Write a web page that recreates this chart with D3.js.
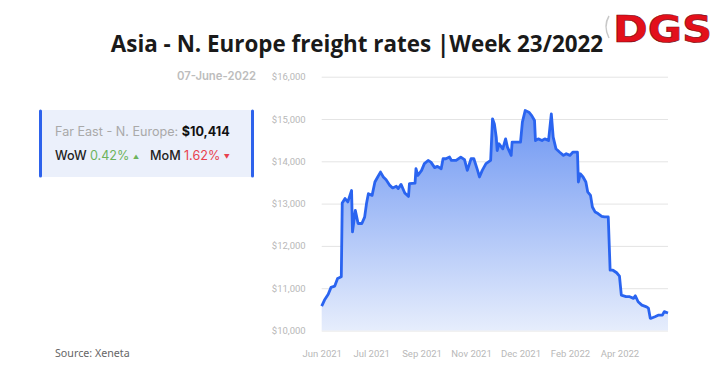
<!DOCTYPE html>
<html>
<head>
<meta charset="utf-8">
<script src="https://cdn.jsdelivr.net/npm/d3@7"></script>
<style>
  body { margin: 0; background: #fff; }
  svg { display: block; }
</style>
</head>
<body>
<div id="chart"></div>
<script>
// data
var dates = ["2021-06-01","2021-06-04","2021-06-08","2021-06-11","2021-06-15","2021-06-18","2021-06-22","2021-06-23",
  "2021-06-26","2021-06-29","2021-07-03","2021-07-04","2021-07-07","2021-07-10","2021-07-14","2021-07-17","2021-07-19",
  "2021-07-21","2021-07-25","2021-07-28","2021-07-31","2021-08-03","2021-08-06","2021-08-09","2021-08-13","2021-08-16",
  "2021-08-20","2021-08-22","2021-08-25","2021-08-29","2021-09-02","2021-09-03","2021-09-09","2021-09-10","2021-09-12",
  "2021-09-16","2021-09-19","2021-09-23","2021-09-26","2021-09-30","2021-10-03","2021-10-07","2021-10-09","2021-10-12",
  "2021-10-16","2021-10-18","2021-10-23","2021-10-28","2021-11-01","2021-11-04","2021-11-08","2021-11-11","2021-11-15",
  "2021-11-17","2021-11-20","2021-11-24","2021-11-29","2021-12-01","2021-12-03","2021-12-05","2021-12-06","2021-12-08",
  "2021-12-12","2021-12-15","2021-12-17","2021-12-21","2021-12-22","2021-12-28","2021-12-31","2022-01-02","2022-01-05",
  "2022-01-09","2022-01-12","2022-01-15","2022-01-16","2022-01-19","2022-01-23","2022-01-26","2022-01-30","2022-02-02",
  "2022-02-04","2022-02-07","2022-02-11","2022-02-15","2022-02-18","2022-02-22","2022-02-25","2022-03-02","2022-03-03",
  "2022-03-05","2022-03-08","2022-03-11","2022-03-13","2022-03-16","2022-03-18","2022-03-21","2022-03-24","2022-03-28",
  "2022-03-31","2022-04-04","2022-04-06","2022-04-09","2022-04-13","2022-04-16","2022-04-18","2022-04-23","2022-04-27",
  "2022-05-01","2022-05-03","2022-05-06","2022-05-10","2022-05-15","2022-05-17","2022-05-19","2022-05-20","2022-05-24",
  "2022-05-28","2022-06-01","2022-06-03","2022-06-07"]

var rates = [10578,10720,10855,11020,11050,11230,11270,13015,
  13120,13040,13310,12330,12840,12530,12530,12680,13000,
  13235,13195,13510,13630,13745,13630,13565,13430,13370,
  13410,13355,13455,13250,13170,13470,13485,13825,13665,
  13785,13945,14020,13980,13850,13880,13825,14060,14060,
  14100,14020,14020,14100,14040,13785,14060,14060,13785,
  13630,13785,13945,14020,15005,14885,14570,14255,14415,
  14295,14530,14335,14140,14455,14455,14455,14925,15200,
  15160,15080,14965,14490,14530,14490,14530,14490,15120,
  14570,14295,14215,14140,14180,14140,14215,14215,13510,
  13705,13630,13510,13275,13195,12920,12800,12765,12700,
  12685,12685,11425,11425,11365,11285,10835,10800,10800,
  10760,10820,10680,10600,10560,10530,10290,10290,10325,
  10365,10365,10445,10414]

var tickDates = ["2021-06-01","2021-07-24","2021-09-16","2021-11-08","2021-12-31","2022-02-22","2022-04-16"]
var yTicks = [10000, 11000, 12000, 13000, 14000, 15000, 16000]

var width = 721, height = 378
var margin = {top: 76.7, right: 53, bottom: 47.5, left: 321.7}

var parse = d3.timeParse("%Y-%m-%d")
var data = dates.map((d, i) => ({date: parse(d), value: rates[i]}))

var svg = d3.select("#chart")
  .append("svg")
  .attr("width", width)
  .attr("height", height)

var defs = svg.append("defs")
var grad = defs.append("linearGradient")
  .attr("id", "areaGrad")
  .attr("gradientUnits", "userSpaceOnUse")
  .attr("x1", 0).attr("x2", 0)
  .attr("y1", margin.top).attr("y2", height - margin.bottom)
grad.append("stop").attr("offset", "0%").attr("stop-color", "#5a88f1")
grad.append("stop").attr("offset", "100%").attr("stop-color", "#e6edfc")

// scales
var xScale = d3.scaleTime()
  .domain([parse("2021-06-01"), parse("2022-06-07")])
  .range([margin.left, width - margin.right])

var yScale = d3.scaleLinear()
  .domain([10000, 16000])
  .range([height - margin.bottom, margin.top])

// grid
svg.append("g")
  .attr("class", "grid")
  .attr("transform", `translate(${margin.left},0)`)
  .call(d3.axisLeft(yScale).tickValues(yTicks).tickSize(-(width - margin.right - margin.left)).tickFormat(""))
  .call(g => g.select(".domain").remove())
  .selectAll("line")
  .style("stroke", "#e4e4e4")
  .style("stroke-width", 1)

// y axis labels
svg.append("g")
  .attr("class", "y-axis")
  .attr("transform", `translate(${margin.left},0)`)
  .call(d3.axisLeft(yScale).tickValues(yTicks).tickSize(0).tickPadding(16).tickFormat(d => "$" + d3.format(",")(d)))
  .call(g => g.select(".domain").remove())
  .selectAll("text")
  .style("font-family", "Roboto, 'Liberation Sans', sans-serif")
  .style("font-size", "9.5px")
  .style("fill", "#b8b8b8")

// x axis labels
svg.append("g")
  .attr("class", "x-axis")
  .attr("transform", `translate(0,${height - margin.bottom})`)
  .call(d3.axisBottom(xScale).tickValues(tickDates.map(parse)).tickSize(0).tickPadding(20).tickFormat(d3.timeFormat("%b %Y")))
  .call(g => g.select(".domain").remove())
  .selectAll("text")
  .style("font-family", "Roboto, 'Liberation Sans', sans-serif")
  .style("font-size", "9.5px")
  .style("fill", "#b8b8b8")

// area + line
var area = d3.area()
  .x(d => xScale(d.date))
  .y0(yScale(10000))
  .y1(d => yScale(d.value))

var line = d3.line()
  .x(d => xScale(d.date))
  .y(d => yScale(d.value))

svg.append("path")
  .datum(data)
  .attr("d", area)
  .attr("fill", "url(#areaGrad)")

svg.append("path")
  .datum(data)
  .attr("d", line)
  .attr("fill", "none")
  .style("stroke", "#2a64f0")
  .style("stroke-width", 2.8)
  .style("stroke-linejoin", "round")

// title
svg.append("text")
  .attr("x", 357)
  .attr("y", 52)
  .attr("text-anchor", "middle")
  .style("font-family", "'Open Sans', sans-serif")
  .style("font-weight", 700)
  .style("font-size", "22.4px")
  .style("fill", "#1a1a1a")
  .text("Asia - N. Europe freight rates |Week 23/2022")

// logo
svg.append("path")
  .attr("d", "M609,16 Q603,26 609,38")
  .attr("fill", "none")
  .style("stroke", "#c8c8c8")
  .style("stroke-width", 1.5)
svg.append("text")
  .attr("x", 613)
  .attr("y", 42)
  .style("font-family", "'DejaVu Sans', sans-serif")
  .style("font-weight", 700)
  .style("font-size", "38px")
  .style("fill", "#e3101b")
  .style("stroke", "#7a0a0f")
  .style("stroke-width", 0.6)
  .attr("textLength", 99)
  .attr("lengthAdjust", "spacingAndGlyphs")
  .text("DGS")

// date
svg.append("text")
  .attr("x", 256)
  .attr("y", 80)
  .attr("text-anchor", "end")
  .style("font-family", "Inter, 'Noto Sans', sans-serif")
  .style("font-weight", 600)
  .style("font-size", "11.3px")
  .style("fill", "#bdbdbd")
  .text("07-June-2022")

// info box
svg.append("rect")
  .attr("x", 39).attr("y", 110)
  .attr("width", 215).attr("height", 67)
  .attr("fill", "#ebf0fb")
svg.append("line")
  .attr("x1", 40.5).attr("x2", 40.5).attr("y1", 111).attr("y2", 176)
  .style("stroke", "#2d62ec").style("stroke-width", 3).style("stroke-linecap", "round")
svg.append("line")
  .attr("x1", 252.5).attr("x2", 252.5).attr("y1", 111).attr("y2", 176)
  .style("stroke", "#2d62ec").style("stroke-width", 3).style("stroke-linecap", "round")

var t1 = svg.append("text")
  .attr("x", 55).attr("y", 136)
  .style("font-family", "Inter, 'Noto Sans', sans-serif")
  .style("font-size", "12.6px")
t1.append("tspan").style("fill", "#a9a9a9").text("Far East - N. Europe: ")
t1.append("tspan").style("fill", "#111").style("font-weight", 700).text("$10,414")

var t2 = svg.append("text")
  .attr("x", 55).attr("y", 160)
  .style("font-family", "Inter, 'Noto Sans', sans-serif")
  .style("font-size", "12.6px")
t2.append("tspan").style("fill", "#222").style("font-weight", 500).text("WoW ")
t2.append("tspan").style("fill", "#6db35c").text("0.42% ")
t2.append("tspan").style("fill", "#6db35c").style("font-size", "6px").attr("dy", -1).text("▲")
t2.append("tspan").attr("dx", 11).attr("dy", 1).style("fill", "#222").style("font-weight", 500).text("MoM ")
t2.append("tspan").style("fill", "#e8414e").text("1.62% ")
t2.append("tspan").style("fill", "#e8414e").style("font-size", "6px").attr("dy", -1).text("▼")

// source
svg.append("text")
  .attr("x", 55).attr("y", 357)
  .style("font-family", "'Noto Sans', sans-serif")
  .style("font-size", "10.7px")
  .style("fill", "#666")
  .text("Source: Xeneta")
</script>
</body>
</html>
